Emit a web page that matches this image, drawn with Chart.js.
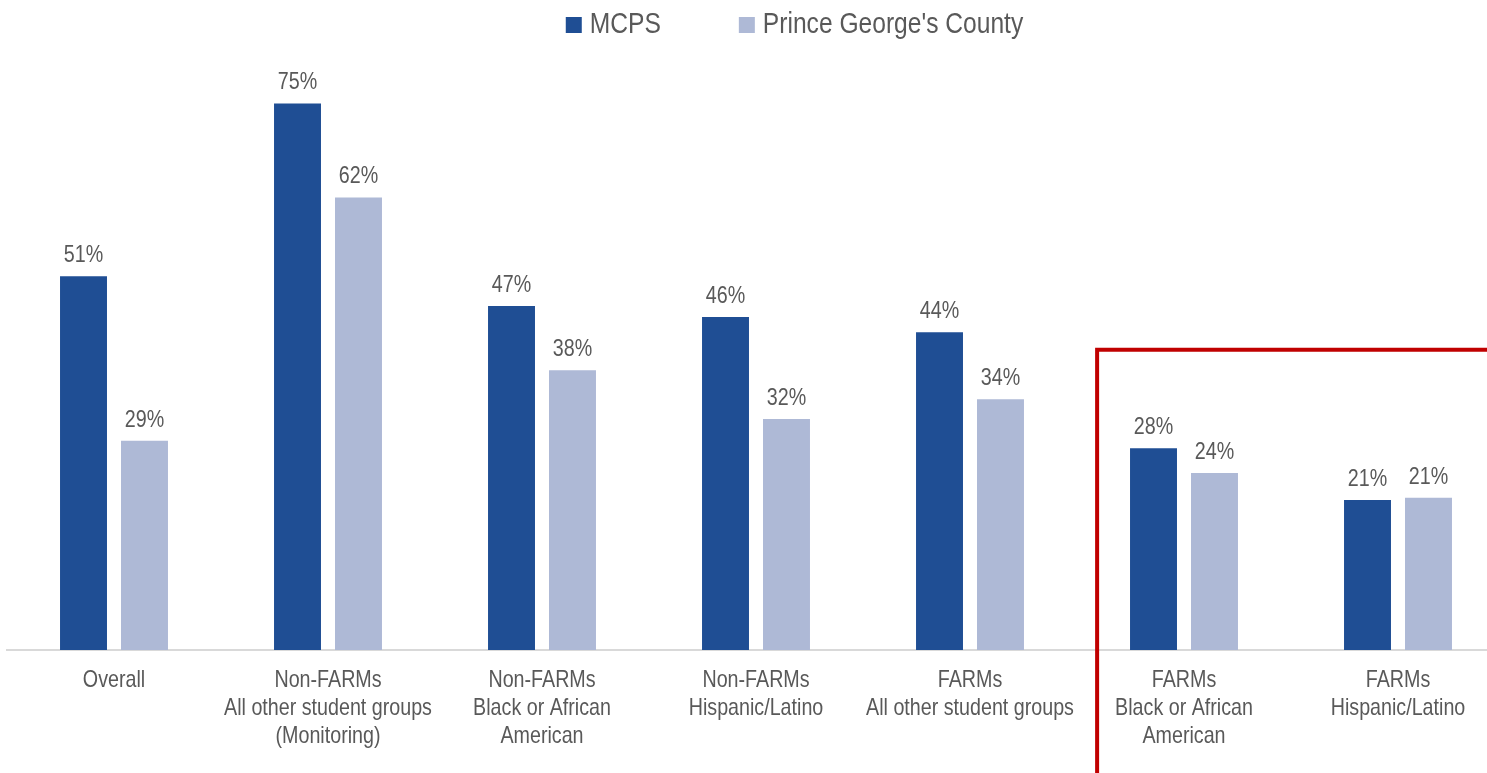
<!DOCTYPE html>
<html>
<head>
<meta charset="utf-8">
<script src="https://cdn.jsdelivr.net/npm/chart.js@4.4.1/dist/chart.umd.min.js"></script>
<style>
  html, body { margin: 0; background: #fff; overflow: hidden; }
  #view { width: 1487px; height: 773px; overflow: hidden; position: relative; }
  /* plot runs slightly past the right edge, as in the source image */
  #wrap { width: 1505px; height: 773px; position: relative; }
</style>
</head>
<body>
<div id="view"><div id="wrap"><canvas id="chart"></canvas></div></div>
<script>
const categories = [
  'Overall',
  ['Non-FARMs', 'All other student groups', '(Monitoring)'],
  ['Non-FARMs', 'Black or African', 'American'],
  ['Non-FARMs', 'Hispanic/Latino'],
  ['FARMs', 'All other student groups'],
  ['FARMs', 'Black or African', 'American'],
  ['FARMs', 'Hispanic/Latino']
];
const mcps = [51.3, 75.0, 47.2, 45.7, 43.6, 27.7, 20.6];
const princeGeorges = [28.7, 62.1, 38.4, 31.7, 34.4, 24.3, 20.9];
const seriesNames = ['MCPS', "Prince George's County"];
const highlightFrom = 5; // first category inside the red box

const FONT = "'Liberation Sans', Arial, sans-serif";
const TEXT = '#595959';
const NARROW = 0.82; // squeeze Arial-metric text to look like Arial Narrow

function narrowText(ctx, text, x, y, align) {
  ctx.save();
  ctx.translate(x, y);
  ctx.scale(NARROW, 1);
  ctx.textAlign = align;
  ctx.fillText(text, 0, 0);
  ctx.restore();
}

// legend at the top: squares + text
const topLegend = {
  id: 'topLegend',
  afterDraw(chart) {
    const ctx = chart.ctx;
    ctx.save();
    ctx.font = '30px ' + FONT;
    ctx.textBaseline = 'middle';
    const box = 16, gapText = 8, gapItem = 78;
    const items = chart.data.datasets.map(ds => ({
      label: ds.label, color: ds.backgroundColor, w: ctx.measureText(ds.label).width * NARROW
    }));
    const total = items.reduce((s, it) => s + box + gapText + it.w, 0) + gapItem * (items.length - 1);
    let x = 1487 / 2 + 51 - total / 2;
    const y = 25;
    items.forEach(it => {
      ctx.fillStyle = it.color;
      ctx.fillRect(x, y - box / 2, box, box);
      ctx.fillStyle = TEXT;
      narrowText(ctx, it.label, x + box + gapText, y, 'left');
      x += box + gapText + it.w + gapItem;
    });
    ctx.restore();
  }
};

// value labels above bars
const barLabels = {
  id: 'barLabels',
  afterDatasetsDraw(chart) {
    const ctx = chart.ctx;
    ctx.save();
    ctx.font = '24px ' + FONT;
    ctx.fillStyle = TEXT;
    ctx.textBaseline = 'alphabetic';
    chart.data.datasets.forEach((ds, i) => {
      chart.getDatasetMeta(i).data.forEach((bar, j) => {
        narrowText(ctx, Math.round(ds.data[j]) + '%', bar.x, bar.y - 14, 'center');
      });
    });
    ctx.restore();
  }
};

// category labels under the axis
const categoryLabels = {
  id: 'categoryLabels',
  afterDraw(chart) {
    const xs = chart.scales.x;
    const ctx = chart.ctx;
    ctx.save();
    ctx.font = '24px ' + FONT;
    ctx.fillStyle = TEXT;
    ctx.textBaseline = 'middle';
    chart.data.labels.forEach((lab, i) => {
      const lines = Array.isArray(lab) ? lab : [lab];
      lines.forEach((line, k) => {
        narrowText(ctx, line, xs.getPixelForValue(i), xs.top + 30 + k * 28, 'center');
      });
    });
    ctx.restore();
  }
};

// red bracket around the FARMs groups
const redBox = {
  id: 'redBox',
  afterDraw(chart) {
    const xs = chart.scales.x, ys = chart.scales.y;
    const catW = xs.getPixelForValue(1) - xs.getPixelForValue(0);
    const x = xs.getPixelForValue(highlightFrom) - 0.406 * catW;
    const y = ys.getPixelForValue(41.2);
    const ctx = chart.ctx;
    ctx.save();
    ctx.strokeStyle = '#C00000';
    ctx.lineWidth = 4;
    ctx.beginPath();
    ctx.moveTo(x, chart.height + 5);
    ctx.lineTo(x, y);
    ctx.lineTo(chart.width + 5, y);
    ctx.stroke();
    ctx.restore();
  }
};

Chart.defaults.font.family = FONT;
Chart.defaults.color = TEXT;

new Chart(document.getElementById('chart'), {
  type: 'bar',
  data: {
    labels: categories,
    datasets: [
      { label: seriesNames[0], data: mcps, backgroundColor: '#1F4E94' },
      { label: seriesNames[1], data: princeGeorges, backgroundColor: '#AEB9D6' }
    ]
  },
  options: {
    responsive: true,
    maintainAspectRatio: false,
    animation: false,
    categoryPercentage: 0.57,
    barPercentage: 0.77,
    layout: { padding: { top: 67, left: 7, right: 0, bottom: 0 } },
    plugins: {
      legend: { display: false },
      tooltip: { enabled: false }
    },
    scales: {
      x: {
        grid: { display: false, drawTicks: false },
        border: { display: true, color: '#D9D9D9', width: 2 },
        ticks: { display: false },
        afterFit(axis) { axis.height = 123; }
      },
      y: {
        display: false,
        min: 0,
        max: 80
      }
    }
  },
  plugins: [topLegend, barLabels, categoryLabels, redBox]
});
</script>
</body>
</html>
